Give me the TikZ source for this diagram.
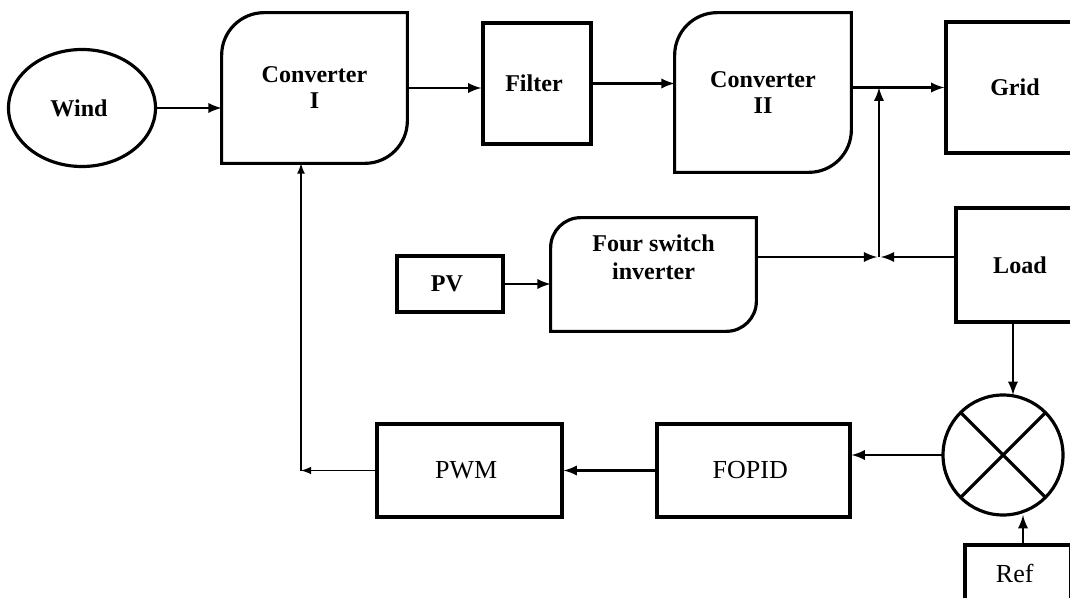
\documentclass[tikz,border=0pt]{standalone}
\usepackage{fontspec}
\setmainfont{Liberation Serif}
\usetikzlibrary{shapes.geometric}

% outline with a rounded top left and bottom right corner
% #1 extra length at the bottom, #2 node, #3 corner radius
\newcommand{\curvedbox}[3][0pt]{%
  \draw [line width=1.8pt] ([yshift=-#1]#2.south west) -- ([yshift=-#3]#2.north west)
    arc [start angle=180, end angle=90, radius=#3] -- (#2.north east)
    -- ([yshift=#3-#1]#2.south east) arc [start angle=0, end angle=-90, radius=#3] -- cycle;}

\begin{document}
\begin{tikzpicture}[
	blk/.style = { draw, line width=1.8pt, align=center, font=\bfseries\fontsize{13.7}{14.8}\selectfont },
	plain/.style = { blk, font=\fontsize{14.8}{16}\selectfont },
	nobox/.style = { align=center, font=\bfseries\fontsize{13.7}{14.8}\selectfont },
	arr/.style = { -latex, line width=1.6pt }
]
	\useasboundingbox (0,0) rectangle (21.4,-11.96);
	\clip (0,0) rectangle (21.4,-11.96);

	% upper row
	\node [blk, ellipse, minimum width=2.94cm, minimum height=2.34cm] (wind) at (1.64,-2.16) { Wind };
	\node [nobox, minimum width=3.70cm, minimum height=3.00cm] (conv1) at (6.29,-1.76) { Converter\\I };
	\curvedbox{conv1}{0.85cm}
	\node [blk, minimum width=2.16cm, minimum height=2.42cm] (filter) at (10.74,-1.67) { Filter };
	\node [nobox, minimum width=3.52cm, minimum height=3.18cm] (conv2) at (15.26,-1.85) { Converter\\II };
	\curvedbox{conv2}{0.85cm}
	\node [blk, minimum width=2.88cm, minimum height=2.62cm] (grid) at (20.36,-1.75) { Grid };

	% middle row
	\node [blk, minimum width=2.12cm, minimum height=1.12cm] (pv) at (9.0,-5.68) { PV };
	\node [nobox, minimum width=4.10cm, minimum height=1.56cm] (fsi) at (13.07,-5.14) { Four switch\\[1pt]inverter };
	\curvedbox[0.7cm]{fsi}{0.6cm}
	\node [blk, minimum width=2.68cm, minimum height=2.28cm] (load) at (20.46,-5.3) { Load };

	% control loop
	\node [draw, circle, line width=1.8pt, outer sep=0pt, minimum size=2.4cm] (circ) at (20.06,-9.1) {};
	\draw [line width=1.8pt] (circ.45) -- (circ.225) (circ.135) -- (circ.315);
	\node [plain, minimum width=3.86cm, minimum height=1.86cm] (fopid) at (15.07,-9.41) { FOPID };
	\node [plain, minimum width=3.70cm, minimum height=1.86cm] (pwm) at (9.39,-9.41) { PWM };
	\node [plain, minimum width=2.12cm, minimum height=1.12cm] (ref) at (20.36,-11.46) { Ref };

	\coordinate (jt) at (17.58,-1.75);
	\coordinate (jb) at (17.58,-5.14);
	\coordinate (fb) at (6.02,-9.41);

	\draw [arr] (wind.east) -- (wind.east -| conv1.west);
	\draw [arr] (conv1.east) -- (conv1.east -| filter.west);
	\draw [arr] (filter.east) -- (filter.east -| conv2.west);
	\draw [arr] (grid.west -| conv2.east) -- (grid.west);
	\draw [arr] (jb) -- (jt);
	\draw [arr] (pv.east) -- (pv.east -| fsi.west);
	\draw [arr, shorten >=1pt] (fsi.east) -- (jb);
	\draw [arr, shorten >=1pt] (load.west |- jb) -- (jb);
	\draw [arr] ([xshift=0.2cm]circ.north |- load.south) -- ([xshift=0.2cm]circ.north);
	\draw [arr] ([xshift=0.1cm]ref.north) -- ([xshift=0.1cm]ref.north |- circ.south);
	\draw [arr] (circ.west) -- (circ.west -| fopid.east);
	\draw [arr] (fopid.west) -- (pwm.east);
	\draw [arr, line width=1pt] (pwm.west) -- (fb);
	\draw [arr, line width=1pt] (fb) -- (fb |- conv1.south);
\end{tikzpicture}
\end{document}
